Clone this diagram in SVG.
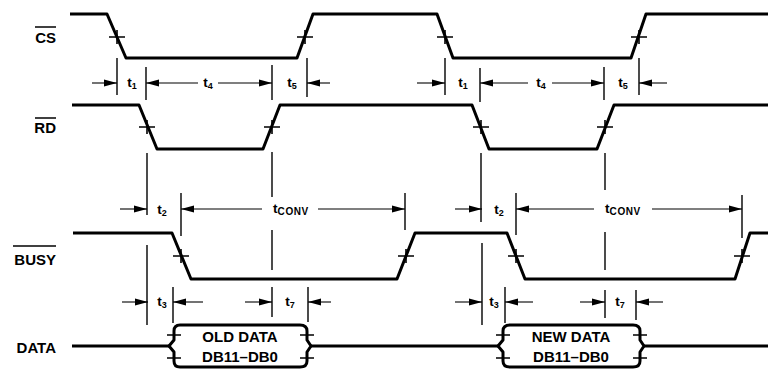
<svg xmlns="http://www.w3.org/2000/svg" width="768" height="370" viewBox="0 0 768 370">
<style>
.bg{fill:#ffffff}
.wave{fill:none;stroke:#000;stroke-width:3;stroke-linejoin:round;stroke-linecap:butt}
.tick{fill:none;stroke:#000;stroke-width:1.6}
.ext{fill:none;stroke:#000;stroke-width:1.4}
.dim{fill:none;stroke:#000;stroke-width:1.1;marker-end:url(#ah)}
.lbl{font-family:"Liberation Sans",Arial,sans-serif;font-weight:bold;font-size:15px;fill:#000;text-anchor:end}
.ovl{stroke:#000;stroke-width:1.5}
.t{font-family:"Liberation Sans",Arial,sans-serif;font-weight:bold;font-size:13.5px;fill:#000;text-anchor:middle}
.sub{font-size:9px}
.subc{font-size:10px;letter-spacing:0.6px}
.box{font-family:"Liberation Sans",Arial,sans-serif;font-weight:bold;font-size:15px;fill:#000;text-anchor:middle}
</style>
<defs>
<marker id="ah" markerUnits="userSpaceOnUse" markerWidth="13" markerHeight="8" refX="13" refY="4" orient="auto">
<path d="M0,0.6 L13,4 L0,7.4 z" fill="#000"/>
</marker>
</defs>
<rect class="bg" x="0" y="0" width="768" height="370"/>

<g id="sig-cs">
<text class="lbl" x="56" y="43">CS</text>
<line class="ovl" x1="35" y1="27" x2="56" y2="27"/>
<path class="wave" d="M70,14 H107 L126,58 H297 L313,14 H437 L453,58 H631 L646,14 H768"/>
<path class="tick" d="M109,37 H125 M117,30 V44 M297,37 H313 M305,30 V44 M437,37 H453 M445,30 V44 M631,37 H647 M639,30 V44"/>
</g>

<g id="sig-rd">
<text class="lbl" x="56" y="133">RD</text>
<line class="ovl" x1="35" y1="118" x2="56" y2="118"/>
<path class="wave" d="M72,105 H139 L157,149 H263 L280,105 H472 L489,149 H597 L614,105 H768"/>
<path class="tick" d="M139,127 H155 M147,120 V134 M264,127 H280 M272,120 V134 M473,127 H489 M481,120 V134 M597,127 H613 M605,120 V134"/>
</g>

<g id="sig-busy">
<text class="lbl" x="56" y="265">BUSY</text>
<line class="ovl" x1="13" y1="246" x2="56" y2="246"/>
<path class="wave" d="M73,233 H172 L191,279 H397 L415,233 H507 L525,279 H735 L750,233 H768"/>
<path class="tick" d="M173,256 H189 M181,249 V263 M398,256 H414 M406,249 V263 M508,256 H524 M516,249 V263 M734,256 H750 M742,249 V263"/>
</g>

<g id="sig-data">
<text class="lbl" x="56" y="353">DATA</text>
<path class="wave" d="M72,346 H169 M311,346 H498 M644,346 H768"/>
</g>

<g id="old-data">
<path class="wave" d="M180,325 H300 Q307,325 307,331 V340 L311,346 L307,352 V361 Q307,367 300,367 H180 Q174,367 174,361 V352 L169,346 L174,340 V331 Q174,325 180,325 Z"/>
<path class="tick" d="M167,335 H181 M167,358 H181 M300,335 H314 M300,358 H314"/>
<text class="box" x="240" y="342">OLD DATA</text>
<text class="box" x="240" y="362">DB11–DB0</text>
</g>

<g id="new-data">
<path class="wave" d="M510,325 H633 Q640,325 640,331 V340 L644,346 L640,352 V361 Q640,367 633,367 H510 Q503,367 503,361 V352 L498,346 L503,340 V331 Q503,325 510,325 Z"/>
<path class="tick" d="M496,335 H510 M496,358 H510 M633,335 H647 M633,358 H647"/>
<text class="box" x="571" y="342">NEW DATA</text>
<text class="box" x="571" y="362">DB11–DB0</text>
</g>

<g id="connectors">
<path class="ext" d="M117,58 V95 M146,67 V100 M272,65 V100 M307,58 V97 M445,58 V95 M480,68 V102 M604,67 V100 M639,58 V95"/>
<path class="ext" d="M147,153 V215 M147,245 V325 M272,152 V197 M272,230 V270 M272,287 V317 M481,153 V222 M482,243 V325 M605,153 V190 M605,232 V270 M605,290 V318"/>
<path class="ext" d="M181,193 V236 M405,193 V230 M516,193 V235 M742,195 V238"/>
<path class="ext" d="M173,287 V323 M308,287 V322 M505,287 V323 M636,290 V320"/>
<line class="dim" x1="92" y1="83" x2="117" y2="83"/>
<line class="dim" x1="198" y1="83" x2="146" y2="83"/>
<line class="dim" x1="218" y1="83" x2="272" y2="83"/>
<line class="dim" x1="330" y1="83" x2="307" y2="83"/>
<line class="dim" x1="417" y1="83" x2="445" y2="83"/>
<line class="dim" x1="528" y1="83" x2="480" y2="83"/>
<line class="dim" x1="552" y1="83" x2="604" y2="83"/>
<line class="dim" x1="667" y1="83" x2="639" y2="83"/>
<line class="dim" x1="120" y1="209" x2="147" y2="209"/>
<line class="dim" x1="262" y1="209" x2="181" y2="209"/>
<line class="dim" x1="318" y1="209" x2="405" y2="209"/>
<line class="dim" x1="455" y1="209" x2="482" y2="209"/>
<line class="dim" x1="594" y1="209" x2="516" y2="209"/>
<line class="dim" x1="652" y1="209" x2="742" y2="209"/>
<line class="dim" x1="122" y1="302" x2="148" y2="302"/>
<line class="dim" x1="203" y1="302" x2="173" y2="302"/>
<line class="dim" x1="245" y1="302" x2="272" y2="302"/>
<line class="dim" x1="331" y1="302" x2="308" y2="302"/>
<line class="dim" x1="455" y1="302" x2="482" y2="302"/>
<line class="dim" x1="533" y1="302" x2="505" y2="302"/>
<line class="dim" x1="580" y1="302" x2="605" y2="302"/>
<line class="dim" x1="663" y1="302" x2="636" y2="302"/>
<text class="t" x="132" y="87">t<tspan class="sub" dy="2">1</tspan></text>
<text class="t" x="208" y="87">t<tspan class="sub" dy="2">4</tspan></text>
<text class="t" x="292" y="87">t<tspan class="sub" dy="2">5</tspan></text>
<text class="t" x="463" y="87">t<tspan class="sub" dy="2">1</tspan></text>
<text class="t" x="541" y="87">t<tspan class="sub" dy="2">4</tspan></text>
<text class="t" x="623" y="87">t<tspan class="sub" dy="2">5</tspan></text>
<text class="t" x="162" y="214">t<tspan class="sub" dy="2">2</tspan></text>
<text class="t" x="291" y="213">t<tspan class="subc" dy="2">CONV</tspan></text>
<text class="t" x="499" y="214">t<tspan class="sub" dy="2">2</tspan></text>
<text class="t" x="623" y="213">t<tspan class="subc" dy="2">CONV</tspan></text>
<text class="t" x="162" y="306">t<tspan class="sub" dy="2">3</tspan></text>
<text class="t" x="290" y="306">t<tspan class="sub" dy="2">7</tspan></text>
<text class="t" x="494" y="306">t<tspan class="sub" dy="2">3</tspan></text>
<text class="t" x="620" y="306">t<tspan class="sub" dy="2">7</tspan></text>
</g>
</svg>
